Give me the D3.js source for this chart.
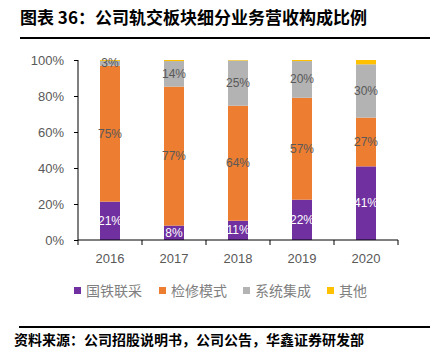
<!DOCTYPE html>
<html><head><meta charset="utf-8">
<script src="https://cdn.jsdelivr.net/npm/d3@7"></script>
<style>body{margin:0;background:#fff}svg{display:block}</style>
</head><body><svg id="c" width="430" height="356"></svg>
<script>
const years = ["2016","2017","2018","2019","2020"];
const seriesNames = ["国铁联采","检修模式","系统集成","其他"];
const guotie = [21.3, 8.0, 10.7, 22.4, 40.9];
const jianxiu = [75.5, 77.2, 63.9, 56.6, 27.1];
const xitong = [2.7, 14.2, 25.1, 20.4, 29.6];
const qita = [0.5, 0.6, 0.3, 0.6, 2.4];
const labelGuotie = ["21%","8%","11%","22%","41%"];
const labelJianxiu = ["75%","77%","64%","57%","27%"];
const labelXitong = ["3%","14%","25%","20%","30%"];
const yTicks = [0,20,40,60,80,100];
const colors = ["#7030A0","#ED7D31","#B3B3B3","#FFC000"];

const svg = d3.select("#c");
const font = "'Noto Sans CJK SC', 'Liberation Sans', sans-serif";

svg.append("text").attr("x",20).attr("y",24).attr("font-family",font)
  .attr("font-size",17).attr("font-weight","bold").attr("fill","#000")
  .text("图表 36：公司轨交板块细分业务营收构成比例");
svg.append("rect").attr("x",20).attr("y",37).attr("width",410).attr("height",2).attr("fill","#000");

const x = d3.scaleBand().domain(years).range([78,398]).paddingInner(0.6875).paddingOuter(0.34375);
const y = d3.scaleLinear().domain([0,100]).range([240,60]);

const data = years.map((yr,i)=>({year:yr, s0:guotie[i], s1:jianxiu[i], s2:xitong[i], s3:qita[i]}));
const stack = d3.stack().keys(["s0","s1","s2","s3"])(data);
const labels = [labelGuotie, labelJianxiu, labelXitong, null];

const g = svg.append("g");
stack.forEach((layer,k)=>{
  g.selectAll(null).data(layer).enter().append("rect")
    .attr("x",d=>x(d.data.year)).attr("width",x.bandwidth())
    .attr("y",d=>y(d[1])).attr("height",d=>y(d[0])-y(d[1]))
    .attr("fill",colors[k]);
});

// axes
const yAxis = d3.axisLeft(y).tickValues(yTicks).tickFormat(d=>d+"%").tickSize(4).tickPadding(10);
const ya = svg.append("g").attr("transform","translate(78,0)").call(yAxis);
ya.select(".domain").attr("stroke","#000").attr("d","M0,60V240");
ya.selectAll(".tick line").attr("stroke","#000");
ya.selectAll("text").attr("font-family","'Liberation Sans', sans-serif").attr("font-size",13).attr("fill","#595959");

const xa = svg.append("g").attr("transform","translate(0,240)");
xa.append("line").attr("x1",78).attr("x2",398).attr("stroke","#000");
const bounds = [0,1,2,3,4,5].map(i=>78+i*x.step());
xa.selectAll(null).data(bounds).enter().append("line")
  .attr("x1",d=>d).attr("x2",d=>d).attr("y1",0).attr("y2",5).attr("stroke","#000");
xa.selectAll(null).data(years).enter().append("text")
  .attr("x",d=>x(d)+x.bandwidth()/2).attr("y",23).attr("text-anchor","middle")
  .attr("font-family","'Liberation Sans', sans-serif").attr("font-size",13).attr("fill","#595959").text(d=>d);

// labels
stack.forEach((layer,k)=>{
  if(!labels[k]) return;
  g.selectAll(null).data(layer).enter().append("text")
    .attr("x",d=>x(d.data.year)+x.bandwidth()/2)
    .attr("y",d=>(y(d[0])+y(d[1]))/2+4)
    .attr("text-anchor","middle")
    .attr("font-family","'Liberation Sans', sans-serif").attr("font-size",12)
    .attr("fill",k===0?"#fff":"#595959")
    .text((d,i)=>labels[k][i]);
});

// legend
const legX = [74,159,243,327];
const leg = svg.append("g");
seriesNames.forEach((n,i)=>{
  leg.append("rect").attr("x",legX[i]).attr("y",287).attr("width",7).attr("height",7).attr("fill",colors[i]);
  leg.append("text").attr("x",legX[i]+12).attr("y",296).attr("font-family",font)
    .attr("font-size",14).attr("fill","#808080").text(n);
});

svg.append("rect").attr("x",19).attr("y",326).attr("width",411).attr("height",2).attr("fill","#000");
svg.append("text").attr("x",14).attr("y",345).attr("font-family",font)
  .attr("font-size",14).attr("font-weight","bold").attr("fill","#000")
  .text("资料来源：公司招股说明书，公司公告，华鑫证券研发部");
</script></body></html>
